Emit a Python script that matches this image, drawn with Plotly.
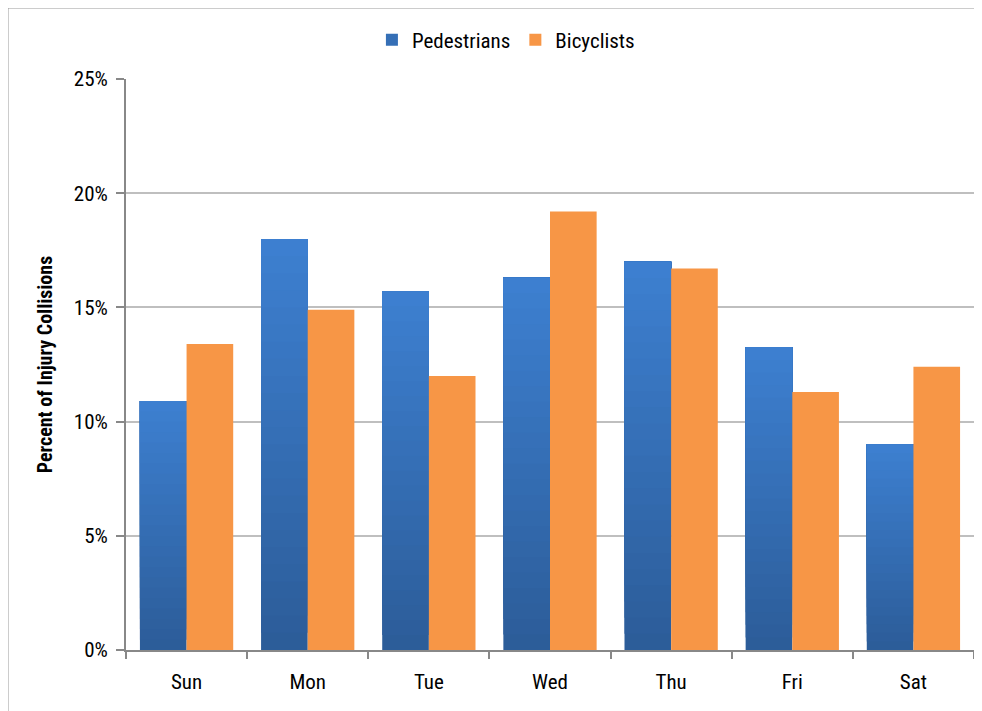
import plotly.graph_objects as go

days = ["Sun", "Mon", "Tue", "Wed", "Thu", "Fri", "Sat"]
pedestrians = [10.9, 18.0, 15.7, 16.3, 17.0, 13.25, 9.0]
bicyclists = [13.4, 14.9, 12.0, 19.2, 16.7, 11.3, 12.4]
y_tick_vals = [0, 5, 10, 15, 20, 25]
y_tick_text = ["0%", "5%", "10%", "15%", "20%", "25%"]

FONT = "Liberation Sans Narrow, Arial Narrow, Roboto Condensed, Liberation Sans, sans-serif"
PED_TOP = (61, 128, 209)
PED_BOTTOM = (44, 92, 152)
BIKE = "#F79646"
N_SEG = 24

# page body has an 8px margin in the browser; plot area target (screen px): x 126..974, y 79..650.5
OFF = 8
PLOT_L, PLOT_R, PLOT_T, PLOT_B = 126, 974, 79, 650.5
W, H = 982, 711
PW = PLOT_R - PLOT_L
PH = PLOT_B - PLOT_T

fig = go.Figure()

# Pedestrian bars with a vertical gradient: overlapping slices, each reaching to the bar top
for k in range(N_SEG):
    t = (k + 0.5) / N_SEG  # 0 bottom -> 1 top
    c = tuple(round(PED_BOTTOM[i] + (PED_TOP[i] - PED_BOTTOM[i]) * t) for i in range(3))
    fig.add_trace(go.Bar(
        x=days,
        y=[v * (N_SEG - k) / N_SEG for v in pedestrians],
        base=[v * k / N_SEG for v in pedestrians],
        offsetgroup="ped",
        name="Pedestrians",
        legendgroup="ped",
        showlegend=(k == N_SEG // 2),
        marker=dict(color="rgb(%d,%d,%d)" % c, line=dict(width=0)),
        hoverinfo="skip",
    ))

fig.add_trace(go.Bar(
    x=days, y=bicyclists, offsetgroup="bike", name="Bicyclists",
    marker=dict(color=BIKE, line=dict(width=0)),
))

fig.update_layout(
    width=W, height=H,
    margin=dict(l=PLOT_L - OFF, r=W - (PLOT_R - OFF), t=PLOT_T - OFF, b=H - (PLOT_B - OFF),
                autoexpand=False),
    paper_bgcolor="white", plot_bgcolor="white",
    barmode="group", bargap=0.23, bargroupgap=0,
    font=dict(family=FONT, size=21, color="#000000"),
    legend=dict(orientation="h", x=0.29, xanchor="left", y=1.0 + 39 / PH, yanchor="middle",
                font=dict(size=21), traceorder="normal", itemwidth=30,
                bgcolor="rgba(0,0,0,0)"),
    xaxis=dict(
        type="category", range=[-0.5, 6.5], tickson="boundaries",
        ticks="outside", ticklen=7, tickwidth=2, tickcolor="#888888",
        showline=True, linecolor="#888888", linewidth=2,
        showgrid=False, ticklabelstandoff=12,
        tickfont=dict(size=21),
    ),
    yaxis=dict(
        range=[0, 25], tickmode="array", tickvals=y_tick_vals, ticktext=y_tick_text,
        ticks="outside", ticklen=8, tickwidth=2, tickcolor="#888888",
        showline=True, linecolor="#888888", linewidth=2,
        showgrid=True, gridcolor="#BFBFBF", gridwidth=2,
        zeroline=False, ticklabelstandoff=4,
        tickfont=dict(size=21),
        title=dict(text="<b>Percent of Injury Collisions</b>", font=dict(size=20), standoff=16),
    ),
    shapes=[dict(type="rect", xref="paper", yref="paper",
                 x0=(7.5 - PLOT_L) / PW, x1=1.2, y0=-0.3, y1=(PLOT_B - 7.5) / PH,
                 line=dict(color="#999999", width=2), fillcolor="rgba(0,0,0,0)", layer="below")],
)

fig.write_html("out.html")
